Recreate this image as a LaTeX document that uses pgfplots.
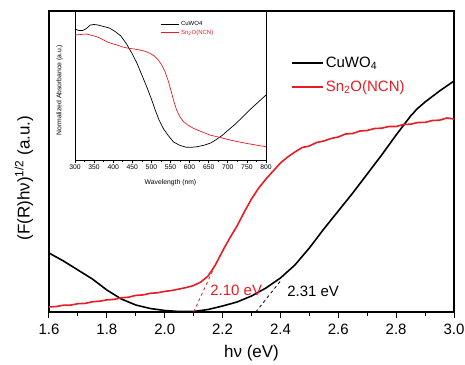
\documentclass[border=0pt]{standalone}
\usepackage{fontspec}
\setmainfont{Liberation Sans}
\usepackage{pgfplots}
\pgfplotsset{compat=1.18}
\definecolor{myred}{RGB}{232,28,36}

\begin{document}
\begin{tikzpicture}
\begin{axis}[name=main, at={(0,0)}, anchor=south west, scale only axis,
 width=405pt, height=301pt,
 xmin=1.6, xmax=3.0, ymin=0, ymax=301,
 xtick={1.6,1.8,2.0,2.2,2.4,2.6,2.8,3.0}, minor x tick num=1,
 xtick pos=bottom, ytick=\empty,
 tick align=outside, major tick length=6pt, minor tick length=3.5pt,
 /pgf/number format/assume math mode=true,
 xticklabel style={font=\fontsize{15}{18}\selectfont, yshift=-2pt, /pgf/number format/fixed, /pgf/number format/fixed zerofill, /pgf/number format/precision=1},
 axis line style={line width=1.3pt},
 every tick/.style={line width=1pt, black},
 xlabel={hν (eV)},
 every axis x label/.style={at={(axis description cs:0.5,-0.137)}, anchor=center, font=\fontsize{17}{20}\selectfont},
 ylabel={(F(R)hν)\textsuperscript{1/2} (a.u.)},
 every axis y label/.style={at={(axis description cs:-0.062,0.445)}, rotate=90, anchor=center, font=\fontsize{17}{20}\selectfont},
 legend style={draw=none, fill=none, at={(0.59,0.862)}, anchor=north west, font=\fontsize{15}{18}\selectfont, row sep=8pt},
 legend image code/.code={\draw[#1] (0pt,0pt) -- (31pt,0pt);},
 legend cell align=left,
]
\addplot[black, line width=1.6pt] coordinates {
(1.60,59) (1.65,51) (1.70,42) (1.75,33) (1.80,22) (1.85,13) (1.90,7) (1.95,3.5)
(2.00,1.5) (2.05,0.5) (2.10,0.5) (2.15,2.5) (2.20,6) (2.25,10) (2.30,16) (2.35,24)
(2.40,34) (2.45,47) (2.50,64) (2.55,83) (2.60,101) (2.65,119) (2.70,138) (2.75,157)
(2.80,177) (2.85,196) (2.86,199) (2.87,202.5) (2.90,210) (2.95,221) (3.00,231)};
\addlegendentry{CuWO\textsubscript{4}}
\addplot[myred, line width=1.6pt] coordinates {
(1.600,5) (1.625,5.5) (1.650,6.8) (1.675,6.9) (1.700,8.3) (1.725,8.6) (1.750,10.2)
(1.775,10.8) (1.800,12.1) (1.825,12.6) (1.850,14.2) (1.875,14.8) (1.900,16.6)
(1.925,17.1) (1.950,18.7) (1.975,19.2) (2.000,20.6) (2.025,21.5) (2.050,23)
(2.075,24.5) (2.100,26.5) (2.125,30) (2.150,36) (2.175,47) (2.200,61) (2.225,74)
(2.250,86) (2.275,100) (2.300,113) (2.325,124) (2.350,133) (2.375,141) (2.400,149)
(2.425,155) (2.450,160) (2.475,164.5) (2.500,166) (2.525,169.5) (2.550,171)
(2.575,173.5) (2.600,175) (2.625,178) (2.650,178.5) (2.675,181) (2.700,181.5)
(2.725,183.5) (2.750,183.8) (2.775,185.5) (2.800,185.5) (2.825,187.5) (2.850,187.8)
(2.875,189.5) (2.900,189.6) (2.925,191.5) (2.950,191.8) (2.975,194) (3.000,193)};
\addlegendentry{\textcolor{myred}{Sn\textsubscript{2}O(NCN)}}
\addplot[myred, dashed, line width=0.8pt, forget plot] coordinates {(2.10,0) (2.17,44)};
\addplot[black, dashed, line width=0.8pt, forget plot] coordinates {(2.315,0) (2.40,31)};
\node[anchor=west, text=myred, font=\fontsize{15}{18}\selectfont, inner sep=0pt] at (axis cs:2.157,22) {2.10 eV};
\node[anchor=west, text=black, font=\fontsize{15}{18}\selectfont, inner sep=0pt] at (axis cs:2.423,21) {2.31 eV};
\end{axis}

\begin{axis}[name=inset, at={(26pt,301pt)}, anchor=north west, scale only axis,
 width=191pt, height=149pt,
 xmin=300, xmax=800, ymin=0, ymax=149,
 xtick={300,350,...,800}, minor x tick num=1,
 xtick pos=bottom, ytick=\empty,
 tick align=outside, major tick length=3pt, minor tick length=1.8pt,
 /pgf/number format/assume math mode=true,
 xticklabel style={font=\fontsize{6.8}{8}\selectfont, inner sep=1.5pt},
 axis line style={line width=0.7pt},
 every tick/.style={line width=0.6pt, black},
 axis background/.style={fill=white},
 xlabel={Wavelength (nm)},
 every axis x label/.style={at={(axis description cs:0.5,-0.152)}, anchor=center, font=\fontsize{6.8}{8}\selectfont},
 ylabel={Normalized Absorbance (a.u.)},
 every axis y label/.style={at={(axis description cs:-0.081,0.47)}, rotate=90, anchor=center, font=\fontsize{6.8}{8}\selectfont},
 legend style={draw=none, fill=none, at={(0.43,0.96)}, anchor=north west, font=\fontsize{6}{7}\selectfont, row sep=-1pt},
 legend image code/.code={\draw[#1] (0pt,0pt) -- (18pt,0pt);},
 legend cell align=left,
]
\addplot[black, line width=0.7pt] coordinates {
(300,131) (310,129.5) (320,129.5) (330,131.5) (340,135) (350,135.5) (360,135)
(375,133.5) (390,132) (405,128.5) (420,124) (435,116) (450,106) (462,97) (475,85)
(488,73) (500,61) (510,50) (520,40) (532,31) (545,24) (558,18) (575,14.5) (592,12.7)
(605,12.7) (620,13.3) (640,15) (655,17) (670,20.5) (685,24.5) (700,29.5) (720,36)
(740,43.5) (760,51) (780,58) (800,65)};
\addlegendentry{CuWO4}
\addplot[myred, line width=0.7pt] coordinates {
(300,125) (315,125.5) (330,126) (345,124.5) (357,123.3) (370,121) (383,118.3)
(396,116.5) (410,115) (425,113) (440,111.7) (455,111) (470,110) (485,108.5)
(496,106.7) (508,104) (518,100) (527,95) (536,88) (545,78) (553,67) (560,57)
(566,50) (575,43) (584,38.3) (597,34.5) (610,31.7) (630,28.5) (653,25) (680,22.5)
(706,20) (730,18) (758,16) (780,14.5) (800,13.3)};
\addlegendentry{\textcolor{myred}{Sn\textsubscript{2}O(NCN)}}
\end{axis}
\pgfresetboundingbox
\path (-49pt,-52pt) rectangle (416pt,312pt);
\end{tikzpicture}
\end{document}
